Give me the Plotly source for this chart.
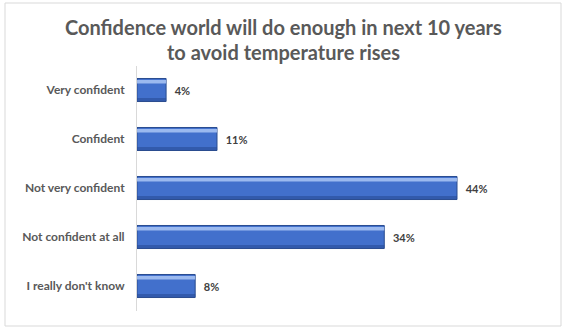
import plotly.graph_objects as go

categories = ["Very confident", "Confident", "Not very confident",
              "Not confident at all", "I really don't know"]
values = [4, 11, 44, 34, 8]
title_lines = ["Confidence world will do enough in next 10 years",
               "to avoid temperature rises"]

W, H = 570, 329
FONT = "Lato"
GREY = "#595959"

# plot area in pixels
x0, x1 = 137, 537
y0, y1 = 65.5, 310.5

fig = go.Figure()

# main bars
fig.add_trace(go.Bar(
    x=values, y=categories, orientation="h",
    width=0.47,
    marker=dict(color="#4270CC", line=dict(color="#2A4C8F", width=1)),
    text=[f"\u00a0\u00a0<b>{v}%</b>" for v in values],
    textposition="outside",
    textfont=dict(family=FONT, size=11, color="#404040"),
    cliponaxis=False, hoverinfo="skip",
))
# light sheen along the top edge of each bar
fig.add_trace(go.Bar(
    x=values, y=categories, orientation="h",
    width=0.07, offset=-0.205,
    marker=dict(color="rgba(170,198,245,0.85)", line=dict(width=0)),
    hoverinfo="skip",
))
# darker shade along the bottom edge
fig.add_trace(go.Bar(
    x=values, y=categories, orientation="h",
    width=0.06, offset=0.165,
    marker=dict(color="rgba(40,75,150,0.6)", line=dict(width=0)),
    hoverinfo="skip",
))

fig.update_layout(
    width=W, height=H,
    margin=dict(l=0, r=0, t=0, b=0),
    paper_bgcolor="white", plot_bgcolor="white",
    barmode="overlay", showlegend=False,
    xaxis=dict(domain=[x0 / W, x1 / W], range=[0, 55], visible=False,
               showgrid=False, zeroline=False),
    yaxis=dict(domain=[1 - y1 / H, 1 - y0 / H], autorange="reversed",
               showgrid=False, zeroline=False,
               showline=True, linecolor="#D9D9D9", linewidth=1,
               ticks="", ticklabelstandoff=9,
               tickprefix="<b>", ticksuffix="</b>",
               tickfont=dict(family=FONT, size=12, color=GREY)),
    shapes=[dict(type="rect", xref="paper", yref="paper",
                 x0=5 / W, x1=561 / W, y0=1 - 326 / H, y1=1 - 3 / H,
                 line=dict(color="#D9D9D9", width=1), fillcolor="rgba(0,0,0,0)",
                 layer="below")],
    annotations=[
        dict(text=f"<b>{line}</b>", xref="paper", yref="paper",
             x=283 / W, y=1 - yc / H, showarrow=False,
             xanchor="center", yanchor="middle",
             font=dict(family=FONT, size=20, color=GREY))
        for line, yc in zip(title_lines, [27, 52])
    ],
)

fig.write_html("out.html")
